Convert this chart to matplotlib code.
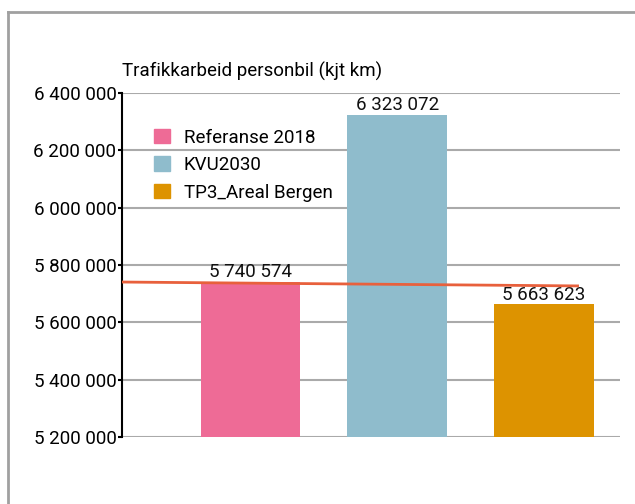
import matplotlib.pyplot as plt
from matplotlib.lines import Line2D
from matplotlib.patches import Patch
from matplotlib.ticker import FuncFormatter

plt.rcParams['font.family'] = ['Roboto', 'DejaVu Sans']

categories = ['Referanse 2018', 'KVU2030', 'TP3_Areal Bergen']
values = [5740574, 6323072, 5663623]
colors = ['#EE6B96', '#8FBCCC', '#DD9300']
ref_line = [5740574, 5727000]  # trend line, start/end
ref_x = [-0.877, 2.24]

fs = 13.5

fig = plt.figure(figsize=(6.35, 5.04), dpi=100)
ax = fig.add_axes([122/635, 1-437/504, 498/635, 344/504])

x = range(len(categories))
ax.bar(x, values, width=0.68, color=colors, zorder=2)
for i, v in enumerate(values):
    ax.text(i, v + 2000, f'{v:,}'.replace(',', ' '), ha='center', va='bottom', fontsize=fs, color='#111111')

ax.plot(ref_x, ref_line, color='#E8603C', lw=2, zorder=3, solid_capstyle='butt')

ax.set_xlim(-0.877, 2.52)
ax.set_ylim(5200000, 6400000)
ax.set_yticks(range(5200000, 6400001, 200000))
ax.yaxis.set_major_formatter(FuncFormatter(lambda v, p: f'{int(v):,}'.replace(',', ' ')))
ax.set_xticks([])
ax.grid(axis='y', color='#AAAAAA', lw=1.5, zorder=0)
ax.set_axisbelow(True)
for s in ['top', 'right', 'bottom']:
    ax.spines[s].set_visible(False)
ax.spines['left'].set_color('black')
ax.spines['left'].set_linewidth(1.5)
ax.tick_params(axis='y', length=3, width=1.5, labelsize=fs, colors='black', pad=1)

handles = [Patch(color=c) for c in colors]
ax.legend(handles, categories, loc='upper left', bbox_to_anchor=(0.03, 0.945),
          frameon=False, fontsize=fs, handlelength=0.85, handleheight=0.8,
          labelspacing=0.5, handletextpad=0.75)

fig.text(122/635, 1-77/504, 'Trafikkarbeid personbil (kjt km)', fontsize=fs, va='baseline', ha='left')

# outer frame (left and top edge only visible)
fig.add_artist(Line2D([8/635, 8/635], [0, 1-12/504], color='#A0A0A0', lw=2))
fig.add_artist(Line2D([8/635, 1], [1-12/504, 1-12/504], color='#A0A0A0', lw=2))

fig.savefig('out.png', dpi=100)
